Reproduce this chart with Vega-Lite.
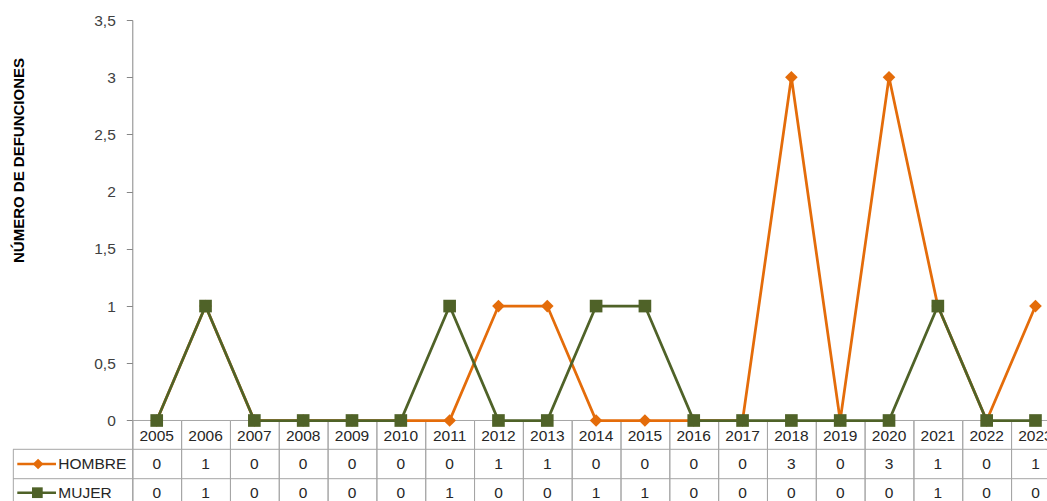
{
  "$schema": "https://vega.github.io/schema/vega-lite/v6.json",
  "width": 1034,
  "height": 481,
  "autosize": {"type": "none"},
  "padding": {"left": 13, "top": 20, "right": 0, "bottom": 0},
  "background": "white",
  "config": {"view": {"stroke": null}, "font": "Liberation Sans"},
  "data": {
    "values": [
      {"year": 2005, "serie": "HOMBRE", "value": 0},
      {"year": 2006, "serie": "HOMBRE", "value": 1},
      {"year": 2007, "serie": "HOMBRE", "value": 0},
      {"year": 2008, "serie": "HOMBRE", "value": 0},
      {"year": 2009, "serie": "HOMBRE", "value": 0},
      {"year": 2010, "serie": "HOMBRE", "value": 0},
      {"year": 2011, "serie": "HOMBRE", "value": 0},
      {"year": 2012, "serie": "HOMBRE", "value": 1},
      {"year": 2013, "serie": "HOMBRE", "value": 1},
      {"year": 2014, "serie": "HOMBRE", "value": 0},
      {"year": 2015, "serie": "HOMBRE", "value": 0},
      {"year": 2016, "serie": "HOMBRE", "value": 0},
      {"year": 2017, "serie": "HOMBRE", "value": 0},
      {"year": 2018, "serie": "HOMBRE", "value": 3},
      {"year": 2019, "serie": "HOMBRE", "value": 0},
      {"year": 2020, "serie": "HOMBRE", "value": 3},
      {"year": 2021, "serie": "HOMBRE", "value": 1},
      {"year": 2022, "serie": "HOMBRE", "value": 0},
      {"year": 2023, "serie": "HOMBRE", "value": 1},
      {"year": 2005, "serie": "MUJER", "value": 0},
      {"year": 2006, "serie": "MUJER", "value": 1},
      {"year": 2007, "serie": "MUJER", "value": 0},
      {"year": 2008, "serie": "MUJER", "value": 0},
      {"year": 2009, "serie": "MUJER", "value": 0},
      {"year": 2010, "serie": "MUJER", "value": 0},
      {"year": 2011, "serie": "MUJER", "value": 1},
      {"year": 2012, "serie": "MUJER", "value": 0},
      {"year": 2013, "serie": "MUJER", "value": 0},
      {"year": 2014, "serie": "MUJER", "value": 1},
      {"year": 2015, "serie": "MUJER", "value": 1},
      {"year": 2016, "serie": "MUJER", "value": 0},
      {"year": 2017, "serie": "MUJER", "value": 0},
      {"year": 2018, "serie": "MUJER", "value": 0},
      {"year": 2019, "serie": "MUJER", "value": 0},
      {"year": 2020, "serie": "MUJER", "value": 0},
      {"year": 2021, "serie": "MUJER", "value": 1},
      {"year": 2022, "serie": "MUJER", "value": 0},
      {"year": 2023, "serie": "MUJER", "value": 0}
    ]
  },
  "layer": [
    {
      "transform": [{"filter": "datum.serie === 'HOMBRE'"}],
      "mark": {"type": "rect", "fill": "transparent", "stroke": "#A6A6A6", "strokeWidth": 1},
      "encoding": {
        "x": {"field": "year", "type": "quantitative", "bin": {"step": 1, "anchor": 2004.5, "extent": [2004.5, 2023.5], "nice": false}, "axis": null},
        "y": {"datum": 0, "type": "quantitative"},
        "y2": {"datum": -0.85}
      }
    },
    {
      "transform": [{"filter": "datum.serie === 'HOMBRE' && datum.year === 2005"}],
      "mark": {"type": "rule", "color": "#A6A6A6", "strokeWidth": 1},
      "encoding": {"y": {"datum": -0.2517, "type": "quantitative"}}
    },
    {
      "transform": [{"filter": "datum.serie === 'HOMBRE' && datum.year === 2005"}],
      "mark": {"type": "rule", "color": "#A6A6A6", "strokeWidth": 1},
      "encoding": {"y": {"datum": -0.5086, "type": "quantitative"}}
    },
    {
      "transform": [{"filter": "datum.serie === 'HOMBRE' && datum.year === 2005"}],
      "mark": {"type": "rule", "color": "#A6A6A6", "strokeWidth": 1},
      "encoding": {"x": {"datum": 2002.063, "type": "quantitative", "axis": null}, "y": {"datum": -0.2517, "type": "quantitative"}, "y2": {"datum": -0.85}}
    },
    {
      "transform": [{"filter": "datum.serie === 'HOMBRE'"}],
      "mark": {"type": "text", "font": "Liberation Sans", "fontSize": 15.5, "color": "#262626", "baseline": "middle", "align": "center"},
      "encoding": {
        "x": {"field": "year", "type": "quantitative", "axis": null},
        "y": {"datum": -0.1311, "type": "quantitative"},
        "text": {"field": "year", "type": "nominal"}
      }
    },
    {
      "transform": [{"filter": "datum.serie === 'HOMBRE'"}],
      "mark": {"type": "text", "font": "Liberation Sans", "fontSize": 15.5, "color": "#262626", "baseline": "middle", "align": "center"},
      "encoding": {
        "x": {"field": "year", "type": "quantitative", "axis": null},
        "y": {"datum": -0.3801, "type": "quantitative"},
        "text": {"field": "value", "type": "nominal"}
      }
    },
    {
      "transform": [{"filter": "datum.serie === 'MUJER'"}],
      "mark": {"type": "text", "font": "Liberation Sans", "fontSize": 15.5, "color": "#262626", "baseline": "middle", "align": "center"},
      "encoding": {
        "x": {"field": "year", "type": "quantitative", "axis": null},
        "y": {"datum": -0.6309, "type": "quantitative"},
        "text": {"field": "value", "type": "nominal"}
      }
    },
    {
      "transform": [{"filter": "datum.serie === 'HOMBRE' && datum.year === 2005"}],
      "mark": {"type": "rule", "strokeWidth": 2.5},
      "encoding": {
        "x": {"datum": 2002.1444, "type": "quantitative", "axis": null},
        "x2": {"datum": 2002.937},
        "y": {"datum": -0.3801, "type": "quantitative"},
        "color": {"field": "serie", "type": "nominal", "legend": null}
      }
    },
    {
      "transform": [{"filter": "datum.serie === 'MUJER' && datum.year === 2005"}],
      "mark": {"type": "rule", "strokeWidth": 2.5},
      "encoding": {
        "x": {"datum": 2002.1444, "type": "quantitative", "axis": null},
        "x2": {"datum": 2002.937},
        "y": {"datum": -0.6309, "type": "quantitative"},
        "color": {"field": "serie", "type": "nominal", "legend": null}
      }
    },
    {
      "transform": [{"filter": "datum.serie === 'HOMBRE' && datum.year === 2005"}],
      "mark": {"type": "point", "filled": true, "opacity": 1, "size": 115},
      "encoding": {
        "x": {"datum": 2002.57, "type": "quantitative", "axis": null},
        "y": {"datum": -0.3801, "type": "quantitative"},
        "color": {"field": "serie", "type": "nominal", "legend": null},
        "shape": {"field": "serie", "type": "nominal", "legend": null}
      }
    },
    {
      "transform": [{"filter": "datum.serie === 'MUJER' && datum.year === 2005"}],
      "mark": {"type": "point", "filled": true, "opacity": 1, "size": 115},
      "encoding": {
        "x": {"datum": 2002.555, "type": "quantitative", "axis": null},
        "y": {"datum": -0.6309, "type": "quantitative"},
        "color": {"field": "serie", "type": "nominal", "legend": null},
        "shape": {"field": "serie", "type": "nominal", "legend": null}
      }
    },
    {
      "transform": [{"filter": "datum.serie === 'HOMBRE' && datum.year === 2005"}],
      "mark": {"type": "text", "font": "Liberation Sans", "fontSize": 15.5, "color": "#262626", "baseline": "middle", "align": "left"},
      "encoding": {
        "x": {"datum": 2002.984, "type": "quantitative", "axis": null},
        "y": {"datum": -0.3801, "type": "quantitative"},
        "text": {"field": "serie", "type": "nominal"}
      }
    },
    {
      "transform": [{"filter": "datum.serie === 'MUJER' && datum.year === 2005"}],
      "mark": {"type": "text", "font": "Liberation Sans", "fontSize": 15.5, "color": "#262626", "baseline": "middle", "align": "left"},
      "encoding": {
        "x": {"datum": 2002.984, "type": "quantitative", "axis": null},
        "y": {"datum": -0.6309, "type": "quantitative"},
        "text": {"field": "serie", "type": "nominal"}
      }
    },
    {
      "mark": {"type": "line", "strokeWidth": 2.75},
      "encoding": {
        "x": {"field": "year", "type": "quantitative", "axis": null,
              "scale": {"domain": [2002.0563, 2023.236], "nice": false, "zero": false}},
        "y": {"field": "value", "type": "quantitative",
              "scale": {"domain": [-0.7035, 3.5], "nice": false, "zero": false},
              "axis": {
                "orient": "left", "offset": -119.3, "values": [0, 0.5, 1, 1.5, 2, 2.5, 3, 3.5],
                "labelExpr": "replace(format(datum.value, '~g'), '.', ',')",
                "labelFont": "Liberation Sans", "labelFontSize": 15.5, "labelColor": "#404040",
                "tickColor": "#868686", "domainColor": "#868686", "tickSize": 6, "labelPadding": 11, "grid": false,
                "title": "NÚMERO DE DEFUNCIONES", "titleFont": "Liberation Sans", "titleFontSize": 15,
                "titleFontWeight": "bold", "titleColor": "#000000", "titleAngle": 270,
                "titleX": -109.3, "titleY": 140, "titleAlign": "center", "titleBaseline": "alphabetic"
              }},
        "color": {
          "field": "serie", "type": "nominal",
          "scale": {"domain": ["HOMBRE", "MUJER"], "range": ["#E46C0A", "#4F6228"]},
          "legend": null
        }
      }
    },
    {
      "mark": {"type": "point", "filled": true, "opacity": 1, "size": 160},
      "encoding": {
        "x": {"field": "year", "type": "quantitative", "axis": null},
        "y": {"field": "value", "type": "quantitative"},
        "color": {"field": "serie", "type": "nominal", "legend": null},
        "shape": {"field": "serie", "type": "nominal", "scale": {"domain": ["HOMBRE", "MUJER"], "range": ["diamond", "square"]}, "legend": null}
      }
    }
  ]
}
